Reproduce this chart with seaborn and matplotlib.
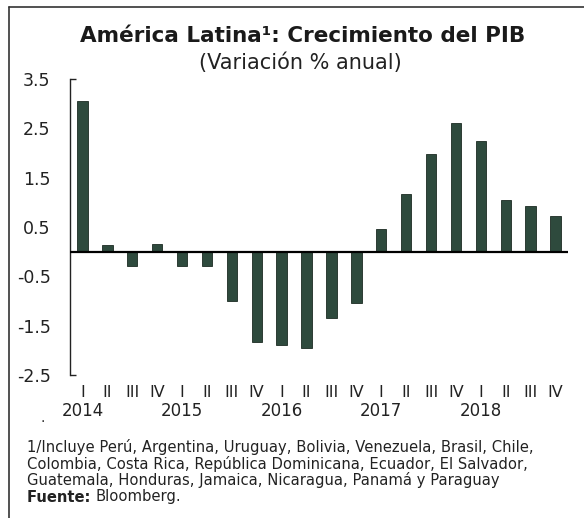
import pandas as pd
import matplotlib.pyplot as plt
import seaborn as sns
from matplotlib.lines import Line2D
from matplotlib.transforms import blended_transform_factory

# datos: crecimiento del PIB trimestral (variacion % anual)
years = ['2014', '2015', '2016', '2017', '2018']
quarters = ['I', 'II', 'III', 'IV']
values = [3.05, 0.13, -0.29, 0.15,
          -0.30, -0.29, -1.00, -1.83,
          -1.89, -1.96, -1.35, -1.05,
          0.45, 1.16, 1.98, 2.61,
          2.25, 1.05, 0.93, 0.72]
y_ticks = [3.5, 2.5, 1.5, 0.5, -0.5, -1.5, -2.5]

periods = [f'{y}-{q}' for y in years for q in quarters]
q_labels = [q for y in years for q in quarters]
df = pd.DataFrame({'periodo': periods, 'valor': values})

W, H = 584, 518
sns.set_style('white')
plt.rcParams['font.family'] = ['DejaVu Sans']

fig = plt.figure(figsize=(W / 100, H / 100), dpi=100)
ax = fig.add_axes([70 / W, 1 - 375 / H, 498 / W, 296 / H])

sns.barplot(data=df, x='periodo', y='valor', color='#2e4a3d', width=0.42,
            edgecolor='#1c2b23', linewidth=0.6, saturation=1, ax=ax)

ax.set_ylim(-2.5, 3.5)
ax.set_xlim(-0.5, 19.5)
ax.axhline(0, color='black', linewidth=1.6, zorder=3)

ax.set_yticks(y_ticks)
ax.set_yticklabels([f'{v:.1f}' for v in y_ticks], fontsize=12.5, color='#222222')
ax.tick_params(axis='y', length=0, pad=14)
# remates del eje y (arriba y abajo)
ax.hlines([y_ticks[0], y_ticks[-1]], 0, 0.013, transform=ax.get_yaxis_transform(),
          color='#222222', linewidth=1, clip_on=False)

ax.set_xticks(range(len(q_labels)))
ax.set_xticklabels(q_labels, fontsize=11.5, color='#222222')
ax.tick_params(axis='x', length=0, pad=7)
ax.set_xlabel('')
ax.set_ylabel('')

for s in ['top', 'right', 'bottom']:
    ax.spines[s].set_visible(False)
ax.spines['left'].set_color('#222222')
ax.spines['left'].set_linewidth(1)

trans = blended_transform_factory(ax.transData, ax.transAxes)
for i, y in enumerate(years):
    ax.text(i * 4, -36 / 296, y, transform=trans, ha='center', va='center',
            fontsize=12, color='#222222')

fig.text(80 / W + 445 / W / 2, 1 - 36 / H, 'América Latina¹: Crecimiento del PIB',
         ha='center', va='center', fontsize=15.5, fontweight='bold', color='#1a1a1a')
fig.text(300 / W, 1 - 63 / H, '(Variación % anual)', ha='center', va='center',
         fontsize=15, color='#222222')

fig.text(43 / W, 1 - 418 / H, '.', ha='center', va='center', fontsize=10)

notes = ['1/Incluye Perú, Argentina, Uruguay, Bolivia, Venezuela, Brasil, Chile,',
         'Colombia, Costa Rica, República Dominicana, Ecuador, El Salvador,',
         'Guatemala, Honduras, Jamaica, Nicaragua, Panamá y Paraguay']
for k, line in enumerate(notes):
    fig.text(27 / W, 1 - (447 + 16.5 * k) / H, line, ha='left', va='center',
             fontsize=10.6, color='#222222')
fuente = fig.text(27 / W, 1 - 497 / H, 'Fuente: ', ha='left', va='center', fontsize=10.6,
                  fontweight='bold', color='#222222')
fig.canvas.draw()
bb = fuente.get_window_extent()
fig.text(bb.x1 / W, 1 - 497 / H, 'Bloomberg.', ha='left', va='center', fontsize=10.6,
         color='#222222')

# marco
fig.add_artist(Line2D([9 / W, 9 / W], [0, 1 - 7 / H], color='#333333', linewidth=1.2))
fig.add_artist(Line2D([9 / W, 1], [1 - 7 / H, 1 - 7 / H], color='#333333', linewidth=1.2))

fig.savefig('out.png', dpi=100)
